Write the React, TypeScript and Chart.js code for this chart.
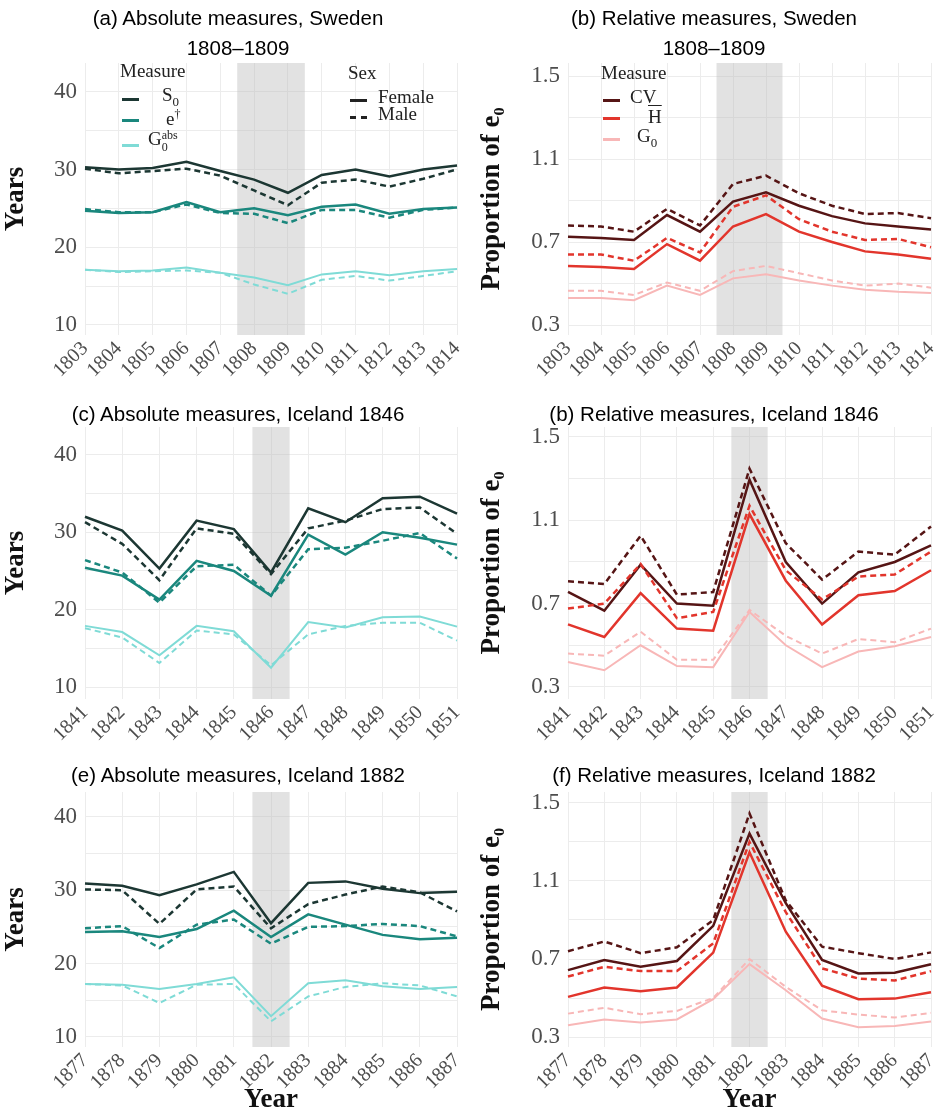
import { useEffect, useRef } from 'react';
import { Chart, registerables } from 'chart.js';

Chart.register(...registerables);

// years per panel
const yearsSweden = ['1803', '1804', '1805', '1806', '1807', '1808', '1809', '1810', '1811', '1812', '1813', '1814'];
const years1846 = ['1841', '1842', '1843', '1844', '1845', '1846', '1847', '1848', '1849', '1850', '1851'];
const years1882 = ['1877', '1878', '1879', '1880', '1881', '1882', '1883', '1884', '1885', '1886', '1887'];

// (a) Sweden absolute
const swS0F = [30.3, 30.0, 30.2, 31.0, 29.8, 28.7, 27.0, 29.3, 30.0, 29.1, 30.0, 30.5];
const swS0M = [30.1, 29.5, 29.8, 30.1, 29.2, 27.3, 25.4, 28.3, 28.7, 27.8, 28.8, 30.0];
const swEF = [24.7, 24.4, 24.5, 25.8, 24.5, 25.0, 24.1, 25.2, 25.5, 24.3, 24.9, 25.1];
const swEM = [24.9, 24.5, 24.5, 25.5, 24.4, 24.3, 23.1, 24.8, 24.8, 23.8, 24.8, 25.1];
const swGaF = [17.1, 16.9, 17.0, 17.4, 16.7, 16.1, 15.1, 16.5, 16.9, 16.4, 16.9, 17.2];
const swGaM = [17.1, 16.8, 16.9, 17.0, 16.7, 15.2, 14.0, 15.8, 16.3, 15.7, 16.3, 16.9];

// (b) Sweden relative
const swCVF = [0.725, 0.72, 0.71, 0.83, 0.75, 0.895, 0.94, 0.875, 0.825, 0.79, 0.775, 0.76];
const swCVM = [0.78, 0.775, 0.75, 0.86, 0.78, 0.98, 1.02, 0.935, 0.875, 0.835, 0.84, 0.815];
const swHF = [0.585, 0.58, 0.57, 0.69, 0.61, 0.775, 0.835, 0.75, 0.7, 0.655, 0.64, 0.62];
const swHM = [0.64, 0.64, 0.61, 0.72, 0.65, 0.87, 0.925, 0.81, 0.75, 0.71, 0.715, 0.675];
const swG0F = [0.43, 0.43, 0.42, 0.49, 0.445, 0.525, 0.545, 0.515, 0.49, 0.47, 0.46, 0.455];
const swG0M = [0.465, 0.465, 0.445, 0.505, 0.465, 0.56, 0.585, 0.55, 0.515, 0.49, 0.5, 0.48];

// (c) Iceland 1846 absolute
const i46S0F = [32.0, 30.2, 25.3, 31.5, 30.4, 24.8, 33.1, 31.3, 34.4, 34.6, 32.4];
const i46S0M = [31.3, 28.5, 23.8, 30.5, 29.8, 24.6, 30.5, 31.5, 33.0, 33.2, 29.8];
const i46EF = [25.4, 24.4, 21.3, 26.3, 25.0, 21.8, 29.7, 27.1, 30.0, 29.3, 28.4];
const i46EM = [26.4, 24.8, 20.9, 25.6, 25.8, 21.8, 27.8, 28.0, 28.9, 29.9, 26.6];
const i46GaF = [17.9, 17.1, 14.1, 17.9, 17.2, 12.5, 18.4, 17.7, 19.0, 19.1, 17.8];
const i46GaM = [17.6, 16.4, 13.1, 17.3, 16.8, 12.8, 16.8, 17.9, 18.3, 18.3, 16.0];

// (d) Iceland 1846 relative
const i46CVF = [0.756, 0.666, 0.887, 0.7, 0.69, 1.295, 0.9, 0.7, 0.85, 0.9, 0.98];
const i46CVM = [0.807, 0.794, 1.026, 0.743, 0.756, 1.348, 0.99, 0.815, 0.95, 0.935, 1.07];
const i46HF = [0.6, 0.54, 0.75, 0.58, 0.57, 1.13, 0.81, 0.6, 0.74, 0.76, 0.86];
const i46HM = [0.676, 0.7, 0.89, 0.63, 0.66, 1.17, 0.86, 0.72, 0.83, 0.84, 0.95];
const i46G0F = [0.42, 0.38, 0.5, 0.4, 0.395, 0.66, 0.5, 0.395, 0.47, 0.495, 0.54];
const i46G0M = [0.46, 0.45, 0.565, 0.43, 0.43, 0.67, 0.545, 0.46, 0.53, 0.515, 0.58];

// (e) Iceland 1882 absolute
const i82S0F = [30.9, 30.6, 29.3, 30.8, 32.5, 25.5, 31.0, 31.2, 30.2, 29.6, 29.8];
const i82S0M = [30.1, 30.0, 25.4, 30.1, 30.5, 24.8, 28.1, 29.4, 30.5, 29.7, 27.1];
const i82EF = [24.3, 24.4, 23.6, 24.7, 27.2, 23.6, 26.7, 25.3, 23.9, 23.3, 23.5];
const i82EM = [24.8, 25.1, 22.1, 25.3, 26.0, 22.7, 25.0, 25.1, 25.4, 25.1, 23.7];
const i82GaF = [17.2, 17.1, 16.5, 17.2, 18.1, 12.8, 17.3, 17.7, 16.9, 16.5, 16.8];
const i82GaM = [17.2, 17.0, 14.6, 17.1, 17.2, 12.1, 15.5, 16.8, 17.3, 17.0, 15.5];

// (f) Iceland 1882 relative
const i82CVF = [0.643, 0.695, 0.66, 0.69, 0.87, 1.343, 0.986, 0.695, 0.626, 0.63, 0.673];
const i82CVM = [0.74, 0.79, 0.73, 0.76, 0.9, 1.446, 1.0, 0.763, 0.73, 0.7, 0.734];
const i82HF = [0.506, 0.554, 0.535, 0.554, 0.733, 1.247, 0.84, 0.563, 0.494, 0.497, 0.53];
const i82HM = [0.61, 0.66, 0.638, 0.638, 0.78, 1.3, 0.94, 0.652, 0.6, 0.59, 0.638];
const i82G0F = [0.36, 0.39, 0.374, 0.39, 0.494, 0.674, 0.54, 0.395, 0.35, 0.357, 0.38];
const i82G0M = [0.42, 0.45, 0.417, 0.434, 0.5, 0.7, 0.557, 0.437, 0.415, 0.4, 0.424];

const absTicks = [10, 15, 20, 25, 30, 35, 40];
const relTicks = [0.3, 0.5, 0.7, 0.9, 1.1, 1.3, 1.5];

const C_S0 = '#1c3733';
const C_E = '#1a877d';
const C_GA = '#7fdbd6';
const C_CV = '#561515';
const C_H = '#e2352c';
const C_G0 = '#f8b7b7';

const SERIF = '"Liberation Serif", "DejaVu Serif", serif';
const SANS = '"Liberation Sans", Arial, sans-serif';

const bandPlugin = {
  id: 'band',
  beforeDatasetsDraw(chart: any, _a: any, opts: any) {
    const x = chart.scales.x;
    const { top, bottom } = chart.chartArea;
    const step = x.getPixelForValue(1) - x.getPixelForValue(0);
    const x0 = x.getPixelForValue(opts.from) - step / 2;
    const x1 = x.getPixelForValue(opts.to) + step / 2;
    const ctx = chart.ctx;
    ctx.save();
    ctx.fillStyle = 'rgba(190,190,190,0.45)';
    ctx.fillRect(x0, top, x1 - x0, bottom - top);
    ctx.restore();
  },
};

type Series = [number[], string, boolean, number];

interface PanelProps {
  labels: string[];
  series: Series[];
  band: [number, number];
  min: number;
  max: number;
  ticks: number[];
  yTitle: string;
  xTitle: boolean;
  height: number;
  plotTop: number;
  plotBottom: number;
  plotLeft: number;
  plotRight: number;
  digits: number;
}

function Panel(p: PanelProps) {
  const ref = useRef<HTMLCanvasElement>(null);
  useEffect(() => {
    if (!ref.current) return;
    const chart = new Chart(ref.current, {
      type: 'line',
      data: {
        labels: p.labels,
        datasets: p.series.map(([data, color, dashed, w]) => ({
          data,
          borderColor: color,
          borderWidth: w,
          borderDash: dashed ? [6, 4] : [],
          pointRadius: 0,
          tension: 0,
          fill: false,
        })),
      },
      options: {
        animation: false,
        responsive: false,
        layout: { padding: { top: p.plotTop, right: 476 - p.plotRight, left: 0, bottom: 0 } },
        plugins: {
          legend: { display: false },
          tooltip: { enabled: false },
          band: { from: p.band[0], to: p.band[1] },
        } as any,
        scales: {
          x: {
            type: 'category',
            offset: false,
            grid: { color: '#ececec', drawTicks: false },
            border: { display: false },
            ticks: {
              maxRotation: 45,
              minRotation: 45,
              autoSkip: false,
              padding: 2,
              color: '#4d4d4d',
              font: { family: SERIF, size: 20 },
            },
            title: {
              display: p.xTitle,
              text: 'Year',
              color: '#111',
              font: { family: SERIF, size: 27, weight: 'bold' },
              padding: 0,
            },
            afterFit(s: any) {
              s.height = p.height - p.plotBottom;
            },
          },
          y: {
            min: p.min,
            max: p.max,
            grid: { color: '#ececec', drawTicks: false },
            border: { display: false },
            afterBuildTicks(s: any) {
              s.ticks = p.ticks.map((v) => ({ value: v }));
            },
            ticks: {
              padding: 8,
              color: '#4d4d4d',
              font: { family: SERIF, size: 23 },
              callback: (v: any, i: number) => (i % 2 === 0 ? Number(v).toFixed(p.digits) : ''),
            },
            title: {
              display: true,
              text: p.yTitle,
              color: '#111',
              font: { family: SERIF, size: 27, weight: 'bold' },
              padding: 0,
            },
            afterFit(s: any) {
              s.width = p.plotLeft;
            },
          },
        },
      },
      plugins: [bandPlugin],
    });
    return () => chart.destroy();
  }, []);
  return <canvas ref={ref} width={476} height={p.height} style={{ display: 'block' }} />;
}

const titleStyle: any = {
  position: 'absolute',
  width: 476,
  textAlign: 'center',
  fontFamily: SANS,
  fontSize: 20.5,
  color: '#000',
  lineHeight: '30px',
};

const legText: any = { position: 'absolute', fontFamily: SERIF, fontSize: 19, color: '#222', whiteSpace: 'nowrap' };

function Swatch({ x, y, color, dashed }: { x: number; y: number; color: string; dashed?: boolean }) {
  return (
    <div
      style={{
        position: 'absolute',
        left: x,
        top: y,
        width: 17,
        height: 0,
        borderTop: `3px ${dashed ? 'dashed' : 'solid'} ${color}`,
      }}
    />
  );
}

export default function App() {
  useEffect(() => {
    document.body.style.margin = '0';
  }, []);
  const absS = (s0f: number[], s0m: number[], ef: number[], em: number[], gf: number[], gm: number[]): Series[] => [
    [gm, C_GA, true, 2],
    [gf, C_GA, false, 2],
    [em, C_E, true, 2.5],
    [ef, C_E, false, 2.5],
    [s0m, C_S0, true, 2.5],
    [s0f, C_S0, false, 2.5],
  ];
  const rel = (a: number[], b: number[], c: number[], d: number[], e: number[], f: number[]): Series[] => {
    const r = absS(a, b, c, d, e, f);
    r[0][1] = C_G0; r[1][1] = C_G0; r[2][1] = C_H; r[3][1] = C_H; r[4][1] = C_CV; r[5][1] = C_CV;
    return r;
  };
  const yAbs = 'Years';
  const yRel = 'Proportion of e₀';
  return (
    <div style={{ position: 'relative', width: 952, height: 1116, background: '#fff' }}>
      <div style={{ position: 'absolute', left: 0, top: 0 }}>
        <Panel labels={yearsSweden} series={absS(swS0F, swS0M, swEF, swEM, swGaF, swGaM)} band={[5, 6]}
          min={8.7} max={43.7} ticks={absTicks} yTitle={yAbs} xTitle={false} height={390}
          plotTop={63} plotBottom={335} plotLeft={85} plotRight={458} digits={0} />
      </div>
      <div style={{ position: 'absolute', left: 476, top: 0 }}>
        <Panel labels={yearsSweden} series={rel(swCVF, swCVM, swHF, swHM, swG0F, swG0M)} band={[5, 6]}
          min={0.252} max={1.563} ticks={relTicks} yTitle={yRel} xTitle={false} height={390}
          plotTop={63} plotBottom={335} plotLeft={92} plotRight={455} digits={1} />
      </div>
      <div style={{ position: 'absolute', left: 0, top: 400 }}>
        <Panel labels={years1846} series={absS(i46S0F, i46S0M, i46EF, i46EM, i46GaF, i46GaM)} band={[5, 5]}
          min={8.45} max={43.6} ticks={absTicks} yTitle={yAbs} xTitle={false} height={350}
          plotTop={27} plotBottom={299} plotLeft={85} plotRight={458} digits={0} />
      </div>
      <div style={{ position: 'absolute', left: 476, top: 400 }}>
        <Panel labels={years1846} series={rel(i46CVF, i46CVM, i46HF, i46HM, i46G0F, i46G0M)} band={[5, 5]}
          min={0.242} max={1.548} ticks={relTicks} yTitle={yRel} xTitle={false} height={350}
          plotTop={27} plotBottom={299} plotLeft={92} plotRight={455} digits={1} />
      </div>
      <div style={{ position: 'absolute', left: 0, top: 760 }}>
        <Panel labels={years1882} series={absS(i82S0F, i82S0M, i82EF, i82EM, i82GaF, i82GaM)} band={[5, 5]}
          min={8.6} max={43.4} ticks={absTicks} yTitle={yAbs} xTitle={true} height={356}
          plotTop={32} plotBottom={287} plotLeft={85} plotRight={458} digits={0} />
      </div>
      <div style={{ position: 'absolute', left: 476, top: 760 }}>
        <Panel labels={years1882} series={rel(i82CVF, i82CVM, i82HF, i82HM, i82G0F, i82G0M)} band={[5, 5]}
          min={0.249} max={1.556} ticks={relTicks} yTitle={yRel} xTitle={true} height={356}
          plotTop={32} plotBottom={287} plotLeft={92} plotRight={455} digits={1} />
      </div>

      <div style={{ ...titleStyle, left: 0, top: 3 }}>(a) Absolute measures, Sweden<br />1808–1809</div>
      <div style={{ ...titleStyle, left: 476, top: 3 }}>(b) Relative measures, Sweden<br />1808–1809</div>
      <div style={{ ...titleStyle, left: 0, top: 399 }}>(c) Absolute measures, Iceland 1846</div>
      <div style={{ ...titleStyle, left: 476, top: 399 }}>(b) Relative measures, Iceland 1846</div>
      <div style={{ ...titleStyle, left: 0, top: 760 }}>(e) Absolute measures, Iceland 1882</div>
      <div style={{ ...titleStyle, left: 476, top: 760 }}>(f) Relative measures, Iceland 1882</div>

      {/* legend (a) */}
      <div style={{ ...legText, left: 120, top: 60 }}>Measure</div>
      <Swatch x={122} y={98} color={C_S0} />
      <div style={{ ...legText, left: 162, top: 84 }}>S<sub style={{ fontSize: 13 }}>0</sub></div>
      <Swatch x={122} y={119} color={C_E} />
      <div style={{ ...legText, left: 166, top: 107 }}>e<sup style={{ fontSize: 12 }}>†</sup></div>
      <Swatch x={122} y={144} color={C_GA} />
      <div style={{ ...legText, left: 148, top: 128 }}>G<span style={{ display: 'inline-flex', flexDirection: 'column', fontSize: 12, lineHeight: '12px', verticalAlign: 'middle' }}><span>abs</span><span>0</span></span></div>
      <div style={{ ...legText, left: 348, top: 62 }}>Sex</div>
      <Swatch x={350} y={99} color="#222" />
      <div style={{ ...legText, left: 378, top: 86 }}>Female</div>
      <Swatch x={350} y={116} color="#222" dashed />
      <div style={{ ...legText, left: 378, top: 103 }}>Male</div>

      {/* legend (b) */}
      <div style={{ ...legText, left: 601, top: 62 }}>Measure</div>
      <Swatch x={603} y={99} color={C_CV} />
      <div style={{ ...legText, left: 630, top: 86 }}>CV</div>
      <Swatch x={603} y={117} color={C_H} />
      <div style={{ ...legText, left: 648, top: 106 }}><span style={{ textDecoration: 'overline' }}>H</span></div>
      <Swatch x={603} y={138} color={C_G0} />
      <div style={{ ...legText, left: 637, top: 125 }}>G<sub style={{ fontSize: 13 }}>0</sub></div>
    </div>
  );
}
